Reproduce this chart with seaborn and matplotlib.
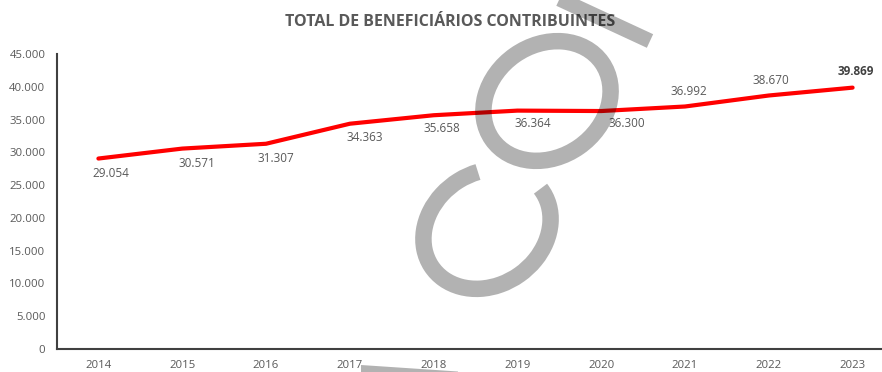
import numpy as np
import pandas as pd
import matplotlib
matplotlib.use("Agg")
import matplotlib.pyplot as plt
from matplotlib.patches import Ellipse, Arc, Polygon
import seaborn as sns

# Annual totals of contributing beneficiaries
years = ["2014", "2015", "2016", "2017", "2018", "2019", "2020", "2021", "2022", "2023"]
beneficiarios = [29054, 30571, 31307, 34363, 35658, 36364, 36300, 36992, 38670, 39869]
y_ticks = [0, 5000, 10000, 15000, 20000, 25000, 30000, 35000, 40000, 45000]

def fmt_br(v):
    return f"{v:,.0f}".replace(",", ".")

sns.set_theme(style="white")
plt.rcParams["font.family"] = ["Open Sans", "DejaVu Sans"]

W, H = 882, 372
fig = plt.figure(figsize=(W / 100, H / 100), dpi=100)
ax = fig.add_axes([56.5 / W, (H - 349) / H, 838 / W, 295 / H])

df = pd.DataFrame({"pos": np.arange(len(years)), "valor": beneficiarios})
sns.lineplot(data=df, x="pos", y="valor", ax=ax, color="#FF0000", linewidth=3.0)

ax.set_xlim(-0.5, len(years) - 0.5)
ax.set_ylim(0, 45000)
ax.set_xticks(df["pos"], labels=years)
ax.set_yticks(y_ticks, labels=[fmt_br(v) for v in y_ticks])
ax.set_xlabel("")
ax.set_ylabel("")
ax.tick_params(axis="both", length=0, labelsize=8.2, labelcolor="#595959")
ax.tick_params(axis="y", pad=8)
ax.tick_params(axis="x", pad=8)
for side in ["top", "right"]:
    ax.spines[side].set_visible(False)
for side in ["left", "bottom"]:
    ax.spines[side].set_color("#404040")
    ax.spines[side].set_linewidth(1.5)
ax.patch.set_alpha(0)

# value labels (pixel offsets)
dx = [12, 15, 10, 15, 8, 15, 26, 4, 2, 3]
dy = [-15, -15, -15, -14, -13, -13, -12, 15, 15, 16]
for i, v in enumerate(beneficiarios):
    last = i == len(beneficiarios) - 1
    ax.annotate(fmt_br(v), (i, v), xytext=(dx[i], dy[i]), textcoords="offset pixels",
                ha="center", va="center", fontsize=8.5,
                color="#404040" if last else "#595959",
                fontweight="bold" if last else "normal")

fig.text(450 / W, 1 - 22 / H, "TOTAL DE BENEFICIÁRIOS CONTRIBUINTES",
         ha="center", va="center", fontsize=11.5, fontweight="bold", color="#595959")

# translucent grey stamp drawn over the chart
ov = fig.add_axes([0, 0, 1, 1], zorder=10)
ov.set_xlim(0, W)
ov.set_ylim(0, H)
ov.axis("off")
ov.patch.set_alpha(0)
stamp = dict(color="black", alpha=0.3)
lw_px = 16.5 * 0.72
ov.add_patch(Ellipse((547, H - 101), 134, 112, angle=35, fill=False,
                     linewidth=lw_px, edgecolor=(0, 0, 0, 0.3)))
ov.add_patch(Arc((487, H - 229), 134, 112, angle=35, theta1=64, theta2=362,
                 linewidth=lw_px, edgecolor=(0, 0, 0, 0.3)))
ov.plot([553, 650], [H + 4, H - 41], linewidth=15 * 0.72, solid_capstyle="butt", **stamp)
ov.add_patch(Polygon([(361, H - 365), (458, H - 371.5), (458, -10), (361, -10)],
                     closed=True, facecolor=(0, 0, 0, 0.3), edgecolor="none"))

fig.savefig("out.png", dpi=100)
